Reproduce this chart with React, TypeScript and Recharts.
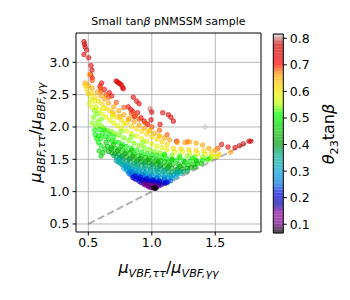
import React from 'react';
import { ScatterChart, Scatter, XAxis, YAxis, ReferenceLine, Label } from 'recharts';

const xTicks = [0.5, 1.0, 1.5];
const yTicks = [0.5, 1.0, 1.5, 2.0, 2.5, 3.0];
const cbTicks = [0.1, 0.2, 0.3, 0.4, 0.5, 0.6, 0.7, 0.8];
const xDomain = [0.403, 1.86];
const yDomain = [0.376, 3.453];
const thetaRange = [0.067, 0.816];
const diagonal = [0.5, 1.8];

// points [mu_VBF ratio, mu_BBF ratio], grouped by theta23*tanb
const theta082 = [[1.42, 2.0]];
const theta080 = [[0.986, 2.28]];
const theta078 = [[0.466, 3.32], [0.471, 3.28], [0.474, 3.24], [0.487, 3.19], [1.765, 1.78], [1.78, 1.78], [1.72, 1.74], [1.69, 1.71]];
const theta075 = [[0.466, 3.12], [0.503, 3.07], [0.521, 2.95], [0.529, 2.88], [0.718, 2.71], [0.728, 2.7], [0.738, 2.68], [0.748, 2.67], [0.762, 2.65], [0.77, 2.61], [0.854, 2.46], [0.88, 2.4], [0.9, 2.36], [0.999, 2.23], [1.086, 2.22], [1.13, 2.19], [1.15, 2.15], [1.17, 2.09], [1.655, 1.68], [1.55, 1.73]];
const theta073 = [[0.518, 2.81], [0.531, 2.76], [0.605, 2.68], [0.592, 2.63], [0.626, 2.58], [0.665, 2.53], [0.684, 2.48], [0.815, 2.31], [0.835, 2.27], [0.85, 2.24], [0.889, 2.22], [0.862, 2.16], [0.915, 2.14], [0.994, 2.11], [0.94, 2.09], [0.968, 2.04], [1.065, 2.04], [1.196, 1.78], [1.6, 1.69], [0.776, 2.59]];
const theta068 = [[0.53, 2.72], [0.6, 2.55], [0.64, 2.5], [0.66, 2.46], [0.72, 2.38], [0.78, 2.3], [0.84, 2.21], [0.87, 2.17], [0.9, 2.12], [0.95, 2.06], [1.0, 2.0], [1.06, 1.95], [1.12, 1.88], [1.28, 1.77], [1.52, 1.67], [0.595, 2.6]];
const theta066 = [[0.475, 2.68], [0.5, 2.64], [0.53, 2.6], [0.57, 2.54], [0.6, 2.48], [0.63, 2.43], [0.66, 2.37], [0.7, 2.31], [0.74, 2.25], [0.78, 2.19], [0.82, 2.13], [0.86, 2.08], [0.9, 2.03], [0.94, 1.98], [0.98, 1.94], [1.02, 1.9], [1.06, 1.86], [1.1, 1.83], [1.14, 1.8], [1.2, 1.76], [1.26, 1.76], [1.3, 1.77], [1.35, 1.75], [1.4, 1.72], [1.45, 1.67], [1.5, 1.64], [1.62, 1.61], [0.69, 2.22], [0.75, 2.16], [0.815, 2.11], [0.51, 2.81]];
const theta062 = [[0.49, 2.58], [0.5, 2.51], [0.525, 2.52], [0.55, 2.46], [0.58, 2.4], [0.61, 2.35], [0.64, 2.29], [0.67, 2.25], [0.7, 2.2], [0.73, 2.15], [0.76, 2.11], [0.8, 2.06], [0.84, 2.01], [0.88, 1.97], [0.92, 1.93], [0.96, 1.89], [1.0, 1.85], [1.04, 1.81], [1.08, 1.77], [1.12, 1.73], [1.17, 1.67], [1.23, 1.66], [1.29, 1.65], [1.35, 1.64], [1.41, 1.63], [1.47, 1.6], [1.53, 1.58], [0.475, 2.64], [0.98, 1.94], [1.06, 1.86], [1.52, 1.55]];
const theta058 = [[0.51, 2.36], [0.52, 2.43], [0.53, 2.3], [0.56, 2.31], [0.585, 2.26], [0.61, 2.2], [0.64, 2.15], [0.67, 2.1], [0.7, 2.06], [0.73, 2.02], [0.76, 1.98], [0.8, 1.94], [0.84, 1.9], [0.88, 1.86], [0.92, 1.82], [0.96, 1.78], [1.0, 1.74], [1.04, 1.7], [1.08, 1.68], [1.12, 1.65], [1.18, 1.62], [1.24, 1.62], [1.3, 1.6], [1.36, 1.59], [1.42, 1.58], [1.47, 1.55], [1.5, 1.54], [0.55, 2.4], [0.62, 2.29], [0.69, 2.16], [0.78, 2.05], [1.45, 1.5]];
const theta054 = [[0.53, 2.06], [0.54, 2.15], [0.56, 2.01], [0.575, 2.08], [0.6, 2.02], [0.62, 1.98], [0.65, 1.95], [0.68, 1.93], [0.71, 1.9], [0.74, 1.87], [0.78, 1.83], [0.82, 1.79], [0.86, 1.75], [0.9, 1.71], [0.94, 1.68], [0.98, 1.65], [1.02, 1.62], [1.06, 1.6], [1.1, 1.58], [1.16, 1.56], [1.22, 1.56], [1.28, 1.55], [1.34, 1.54], [1.4, 1.53], [1.46, 1.52], [0.55, 2.25], [0.57, 2.2], [0.6, 2.12], [0.76, 1.93], [0.84, 1.85], [0.93, 1.76]];
const theta050 = [[0.55, 1.95], [0.555, 1.88], [0.565, 1.82], [0.58, 1.76], [0.6, 1.71], [0.6, 1.82], [0.61, 1.9], [0.635, 1.85], [0.66, 1.81], [0.685, 1.78], [0.71, 1.77], [0.74, 1.76], [0.77, 1.73], [0.8, 1.7], [0.84, 1.67], [0.88, 1.64], [0.92, 1.61], [0.96, 1.59], [1.0, 1.57], [1.04, 1.56], [1.08, 1.53], [1.12, 1.51], [1.16, 1.5], [1.2, 1.49], [1.25, 1.48], [1.3, 1.47], [1.35, 1.48], [1.4, 1.48], [1.44, 1.5], [0.59, 1.96], [0.63, 1.95], [0.665, 1.89], [0.7, 1.85], [0.58, 1.86], [1.1, 1.57], [1.22, 1.53], [1.32, 1.52]];
const theta046 = [[0.6, 1.55], [0.615, 1.6], [0.63, 1.66], [0.65, 1.7], [0.68, 1.69], [0.71, 1.67], [0.74, 1.66], [0.77, 1.64], [0.8, 1.62], [0.83, 1.6], [0.86, 1.58], [0.89, 1.56], [0.92, 1.55], [0.95, 1.53], [0.98, 1.52], [1.01, 1.51], [1.04, 1.49], [1.07, 1.48], [1.1, 1.46], [1.13, 1.45], [1.17, 1.43], [1.21, 1.42], [1.25, 1.41], [1.29, 1.41], [1.33, 1.42], [1.36, 1.43], [1.39, 1.44], [0.585, 1.63], [0.64, 1.76], [0.7, 1.73], [0.76, 1.7], [0.84, 1.64], [1.16, 1.49], [1.26, 1.46], [1.35, 1.47]];
const theta042 = [[0.66, 1.62], [0.685, 1.6], [0.71, 1.59], [0.74, 1.58], [0.77, 1.56], [0.8, 1.54], [0.83, 1.52], [0.86, 1.5], [0.89, 1.49], [0.92, 1.47], [0.95, 1.46], [0.98, 1.45], [1.01, 1.44], [1.04, 1.43], [1.07, 1.41], [1.1, 1.39], [1.13, 1.38], [1.16, 1.36], [1.2, 1.35], [1.24, 1.35], [1.28, 1.36], [1.31, 1.37], [1.34, 1.38], [0.68, 1.66], [0.73, 1.63], [0.79, 1.59], [0.85, 1.55], [0.91, 1.51], [0.97, 1.49], [1.05, 1.46], [1.14, 1.41], [1.22, 1.39]];
const theta038 = [[0.7, 1.56], [0.72, 1.54], [0.745, 1.52], [0.77, 1.5], [0.8, 1.47], [0.83, 1.45], [0.86, 1.43], [0.89, 1.42], [0.92, 1.41], [0.95, 1.4], [0.98, 1.39], [1.01, 1.38], [1.04, 1.36], [1.07, 1.35], [1.1, 1.33], [1.13, 1.31], [1.16, 1.3], [1.19, 1.3], [1.22, 1.31], [1.25, 1.31], [1.28, 1.32], [0.76, 1.54], [0.82, 1.5], [0.88, 1.46], [0.94, 1.44], [1.0, 1.42], [1.06, 1.39], [1.12, 1.35], [1.2, 1.34]];
const theta034 = [[0.72, 1.48], [0.735, 1.46], [0.75, 1.44], [0.765, 1.42], [0.78, 1.41], [0.8, 1.39], [0.82, 1.38], [0.84, 1.36], [0.87, 1.35], [0.9, 1.34], [0.93, 1.33], [0.96, 1.32], [0.99, 1.31], [1.02, 1.3], [1.05, 1.29], [1.08, 1.27], [1.11, 1.26], [1.14, 1.26], [1.17, 1.26], [1.2, 1.27], [1.23, 1.28], [0.74, 1.5], [0.77, 1.47], [0.81, 1.43], [0.85, 1.4], [0.89, 1.38], [0.94, 1.36], [0.99, 1.35], [1.04, 1.33], [1.09, 1.31], [1.2, 1.3]];
const theta030 = [[0.78, 1.36], [0.8, 1.33], [0.815, 1.31], [0.83, 1.32], [0.85, 1.29], [0.87, 1.28], [0.89, 1.27], [0.92, 1.27], [0.95, 1.25], [0.98, 1.25], [1.01, 1.23], [1.04, 1.22], [1.07, 1.21], [1.1, 1.2], [1.13, 1.2], [1.16, 1.21], [1.19, 1.23], [0.79, 1.39], [0.82, 1.36], [0.86, 1.33], [0.9, 1.31], [0.95, 1.29], [1.0, 1.27], [1.05, 1.25], [1.1, 1.23], [1.15, 1.24]];
const theta025 = [[0.82, 1.28], [0.835, 1.26], [0.85, 1.25], [0.87, 1.24], [0.89, 1.23], [0.91, 1.24], [0.93, 1.22], [0.95, 1.21], [0.97, 1.2], [1.0, 1.19], [1.03, 1.18], [1.06, 1.17], [1.09, 1.16], [1.11, 1.155], [1.13, 1.16], [1.15, 1.17], [0.84, 1.3], [0.88, 1.27], [0.93, 1.26], [0.98, 1.23], [1.04, 1.21], [1.1, 1.19]];
const theta021 = [[0.85, 1.22], [0.865, 1.2], [0.88, 1.19], [0.9, 1.2], [0.92, 1.18], [0.94, 1.175], [0.96, 1.165], [0.98, 1.16], [1.0, 1.16], [1.02, 1.15], [1.04, 1.14], [1.06, 1.135], [1.085, 1.13], [1.105, 1.13], [1.12, 1.14], [0.87, 1.24], [0.91, 1.22], [0.96, 1.2], [1.01, 1.18], [1.06, 1.16], [0.9, 1.16], [0.95, 1.15], [1.0, 1.135], [1.05, 1.12]];
const theta017 = [[0.915, 1.14], [0.935, 1.13], [0.955, 1.125], [0.975, 1.12], [0.995, 1.115], [1.015, 1.11], [1.035, 1.105], [1.055, 1.1], [1.075, 1.105]];
const theta013 = [[0.94, 1.11], [0.955, 1.1], [0.97, 1.095], [0.985, 1.09], [1.0, 1.095], [1.02, 1.09], [1.04, 1.085]];
const theta010 = [[0.975, 1.075], [0.99, 1.065], [1.005, 1.07], [1.035, 1.07]];
const theta007 = [[1.015, 1.055], [1.025, 1.06], [1.03, 1.05]];

const bands = [
  { theta: 0.815, pts: theta082 },
  { theta: 0.8, pts: theta080 },
  { theta: 0.78, pts: theta078 },
  { theta: 0.75, pts: theta075 },
  { theta: 0.73, pts: theta073 },
  { theta: 0.685, pts: theta068 },
  { theta: 0.66, pts: theta066 },
  { theta: 0.62, pts: theta062 },
  { theta: 0.58, pts: theta058 },
  { theta: 0.54, pts: theta054 },
  { theta: 0.5, pts: theta050 },
  { theta: 0.46, pts: theta046 },
  { theta: 0.42, pts: theta042 },
  { theta: 0.38, pts: theta038 },
  { theta: 0.34, pts: theta034 },
  { theta: 0.3, pts: theta030 },
  { theta: 0.25, pts: theta025 },
  { theta: 0.21, pts: theta021 },
  { theta: 0.17, pts: theta017 },
  { theta: 0.13, pts: theta013 },
  { theta: 0.1, pts: theta010 },
  { theta: 0.07, pts: theta007 },
];

// nipy_spectral colormap table (21 nodes, 0.05 apart)
const NS_R = [0, 0.4667, 0.5333, 0, 0, 0, 0, 0, 0, 0, 0, 0, 0, 0.7333, 0.9333, 1, 1, 1, 0.8667, 0.8, 0.8];
const NS_G = [0, 0, 0, 0, 0, 0.4667, 0.6, 0.6667, 0.6667, 0.6, 0.7333, 0.8667, 1, 1, 0.9333, 0.8, 0.6, 0, 0, 0, 0.8];
const NS_B = [0, 0.5333, 0.6, 0.6667, 0.8667, 0.8667, 0.8667, 0.6667, 0.5333, 0, 0, 0, 0, 0, 0, 0, 0, 0, 0, 0, 0.8];

// alpha < 1 blends the colour over white
const nipy = (t: number, alpha = 1) => {
  const tt = Math.max(0, Math.min(1, t)) * 20;
  const i = Math.min(19, Math.floor(tt));
  const f = tt - i;
  const ch = (a: number[]) => {
    const v = a[i] + (a[i + 1] - a[i]) * f;
    return Math.round((v * alpha + (1 - alpha)) * 255);
  };
  return `rgb(${ch(NS_R)},${ch(NS_G)},${ch(NS_B)})`;
};
const norm = (v: number) => (v - thetaRange[0]) / (thetaRange[1] - thetaRange[0]);
const colorOf = (v: number) => nipy(norm(v));

const FONT = 'DejaVu Sans';

const Dot = (props: any) => {
  const { cx, cy, payload } = props;
  if (cx == null || cy == null) return null;
  const col = colorOf(payload.c);
  return (
    <circle cx={cx} cy={cy} r={2.3} fill={col} fillOpacity={0.55} stroke={col} strokeOpacity={0.6} strokeWidth={0.9} />
  );
};

const tickStyle = { fill: '#000', fontSize: 12.5, fontFamily: FONT };

const cbStrips = Array.from({ length: 64 }, (_, i) => {
  const span = thetaRange[1] - thetaRange[0];
  return thetaRange[0] + (span * (i + 0.5)) / 64;
});

const renderTitle = () => (
  <text x={168.5} y={25} textAnchor="middle" fontFamily={FONT} fontSize={11} fill="#000">
    Small tan<tspan fontStyle="italic">β</tspan> pNMSSM sample
  </text>
);

const renderXLabel = () => (
  <text x={168.5} y={273} textAnchor="middle" fontFamily={FONT} fontSize={16} fill="#000">
    <tspan fontStyle="italic">μ</tspan>
    <tspan fontStyle="italic" fontSize={11.2} dy={3.5}>VBF,ττ</tspan>
    <tspan dy={-3.5}>/</tspan>
    <tspan fontStyle="italic">μ</tspan>
    <tspan fontStyle="italic" fontSize={11.2} dy={3.5}>VBF,γγ</tspan>
  </text>
);

const renderYLabel = () => (
  <text x={41} y={132.5} transform="rotate(-90 41 132.5)" textAnchor="middle" fontFamily={FONT} fontSize={16} fill="#000">
    <tspan fontStyle="italic">μ</tspan>
    <tspan fontStyle="italic" fontSize={11.2} dy={3.5}>BBF,ττ</tspan>
    <tspan dy={-3.5}>/</tspan>
    <tspan fontStyle="italic">μ</tspan>
    <tspan fontStyle="italic" fontSize={11.2} dy={3.5}>BBF,γγ</tspan>
  </text>
);

const renderCbLabel = () => (
  <text x={74} y={134} transform="rotate(-90 74 134)" textAnchor="middle" fontFamily={FONT} fontSize={16} fill="#000">
    <tspan fontStyle="italic">θ</tspan>
    <tspan fontSize={11.2} dy={3.5}>23</tspan>
    <tspan dy={-3.5}>tan</tspan>
    <tspan fontStyle="italic">β</tspan>
  </text>
);

export default function App() {
  return (
    <div style={{ position: 'fixed', left: 0, top: 0, width: 350, height: 300, background: '#fff' }}>
      <div style={{ position: 'absolute', left: 0, top: 0 }}>
        <ScatterChart width={350} height={300} margin={{ top: 33, right: 89, bottom: 38, left: 36 }}>
          <XAxis
            type="number"
            dataKey="x"
            domain={xDomain}
            ticks={xTicks}
            tickFormatter={(v: number) => v.toFixed(1)}
            allowDataOverflow
            height={30}
            axisLine={false}
            tickLine={{ stroke: '#000' }}
            tickSize={3.5}
            tickMargin={3}
            tick={tickStyle}
          >
            <Label content={renderXLabel} />
          </XAxis>
          <YAxis
            type="number"
            dataKey="y"
            domain={yDomain}
            ticks={yTicks}
            tickFormatter={(v: number) => v.toFixed(1)}
            allowDataOverflow
            width={40}
            axisLine={false}
            tickLine={{ stroke: '#000' }}
            tickSize={3.5}
            tickMargin={3}
            tick={tickStyle}
          >
            <Label content={renderYLabel} />
          </YAxis>
          {bands.map((b) => (
            <Scatter
              key={b.theta}
              data={b.pts.map(([x, y]) => ({ x, y, c: b.theta }))}
              shape={Dot}
              isAnimationActive={false}
            />
          ))}
          {xTicks.map((t) => (
            <ReferenceLine key={`gx${t}`} x={t} stroke="#b0b0b0" strokeWidth={0.9} />
          ))}
          {yTicks.map((t) => (
            <ReferenceLine key={`gy${t}`} y={t} stroke="#b0b0b0" strokeWidth={0.9} />
          ))}
          <ReferenceLine
            segment={[
              { x: diagonal[0], y: diagonal[0] },
              { x: diagonal[1], y: diagonal[1] },
            ]}
            stroke="#000"
            strokeOpacity={0.3}
            strokeWidth={2}
            strokeDasharray="7.4 3.2"
          />
          <ReferenceLine x={xDomain[0]} stroke="#000" strokeWidth={1} ifOverflow="visible" label={renderTitle} />
          <ReferenceLine x={xDomain[1]} stroke="#000" strokeWidth={1} ifOverflow="visible" />
          <ReferenceLine y={yDomain[0]} stroke="#000" strokeWidth={1} ifOverflow="visible" />
          <ReferenceLine y={yDomain[1]} stroke="#000" strokeWidth={1} ifOverflow="visible" />
        </ScatterChart>
      </div>
      <div style={{ position: 'absolute', left: 260, top: 0 }}>
        <ScatterChart width={90} height={300} margin={{ top: 34, right: 16.7, bottom: 67, left: 13.3 }}>
          <XAxis type="number" dataKey="x" domain={[0, 1]} hide />
          <YAxis
            type="number"
            dataKey="y"
            orientation="right"
            domain={thetaRange}
            ticks={cbTicks}
            tickFormatter={(v: number) => v.toFixed(1)}
            allowDataOverflow
            width={50}
            axisLine={false}
            tickLine={{ stroke: '#000' }}
            tickSize={3.5}
            tickMargin={3}
            tick={tickStyle}
          >
            <Label content={renderCbLabel} />
          </YAxis>
          <Scatter data={[{ x: 0.5, y: 0.4 }]} shape={() => null} isAnimationActive={false} />
          {cbStrips.map((m, i) => (
            <ReferenceLine key={i} y={m} stroke={nipy(norm(m), 0.7)} strokeWidth={3.4} ifOverflow="visible" />
          ))}
          <ReferenceLine x={0} stroke="#000" strokeWidth={1} ifOverflow="visible" />
          <ReferenceLine x={1} stroke="#000" strokeWidth={1} ifOverflow="visible" />
          <ReferenceLine y={thetaRange[0]} stroke="#000" strokeWidth={1} ifOverflow="visible" />
          <ReferenceLine y={thetaRange[1]} stroke="#000" strokeWidth={1} ifOverflow="visible" />
        </ScatterChart>
      </div>
    </div>
  );
}
